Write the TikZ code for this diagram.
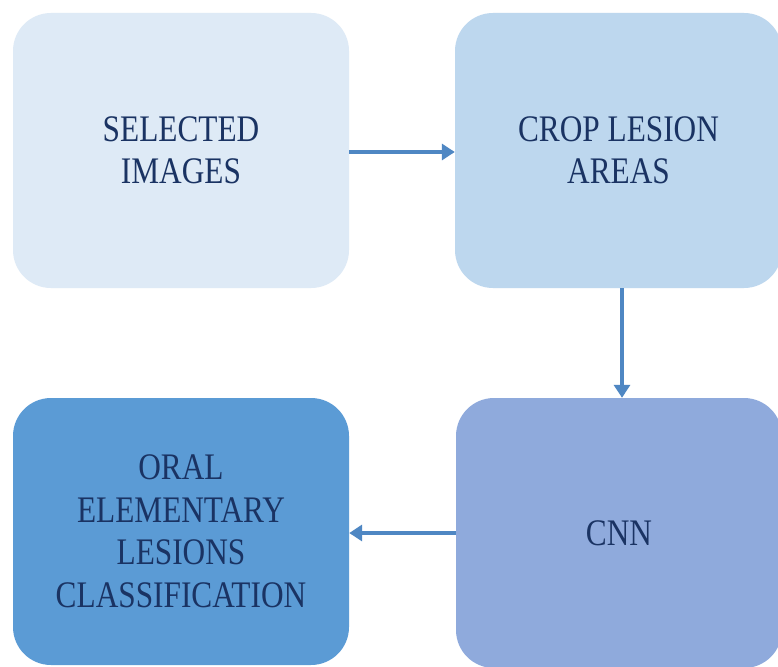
\documentclass[tikz,border=0pt]{standalone}
\usepackage{fontspec}
\setmainfont{Liberation Serif}[FakeStretch=0.835]
\usetikzlibrary{arrows.meta}
\definecolor{boxA}{HTML}{DEEAF6}
\definecolor{boxB}{HTML}{BDD7EE}
\definecolor{boxC}{HTML}{8FAADC}
\definecolor{boxD}{HTML}{5B9BD5}
\definecolor{txt}{HTML}{1A3363}
\definecolor{arr}{HTML}{4F87C3}
\tikzset{
  stagebox/.style={rectangle, rounded corners=38pt, draw=none, inner sep=0pt,
    align=center, text=txt, font=\fontsize{37.5}{42.5}\selectfont},
  flowarrow/.style={draw=arr, line width=4.8pt,
    -{Triangle[length=13pt, width=16pt]}}
}
\begin{document}
\begin{tikzpicture}[x=1pt, y=-1pt]
\useasboundingbox (0,0) rectangle (778,666);
\fill[white] (0,0) rectangle (778,666);
\begin{scope}
\clip (0,0) rectangle (778,666);
\node[stagebox, fill=boxA, minimum width=336pt, minimum height=275pt] (sel) at (181,150.5) {SELECTED\\IMAGES};
\node[stagebox, fill=boxB, minimum width=327pt, minimum height=275pt] (crop) at (618.5,150.5) {CROP LESION\\AREAS};
\node[stagebox, fill=boxC, minimum width=326pt, minimum height=270pt] (cnn) at (619,533) {CNN};
\node[stagebox, fill=boxD, minimum width=336pt, minimum height=267pt] (cls) at (181,531.5) {ORAL\\ELEMENTARY\\LESIONS\\CLASSIFICATION};
\end{scope}
\coordinate (a1s) at (349,152);
\coordinate (a2s) at (622,288);
\coordinate (a3s) at (456,533);
\draw[flowarrow] (a1s) -- (crop.west |- a1s);
\draw[flowarrow] (a2s) -- (a2s |- cnn.north);
\draw[flowarrow] (a3s) -- (cls.east |- a3s);
\end{tikzpicture}
\end{document}
